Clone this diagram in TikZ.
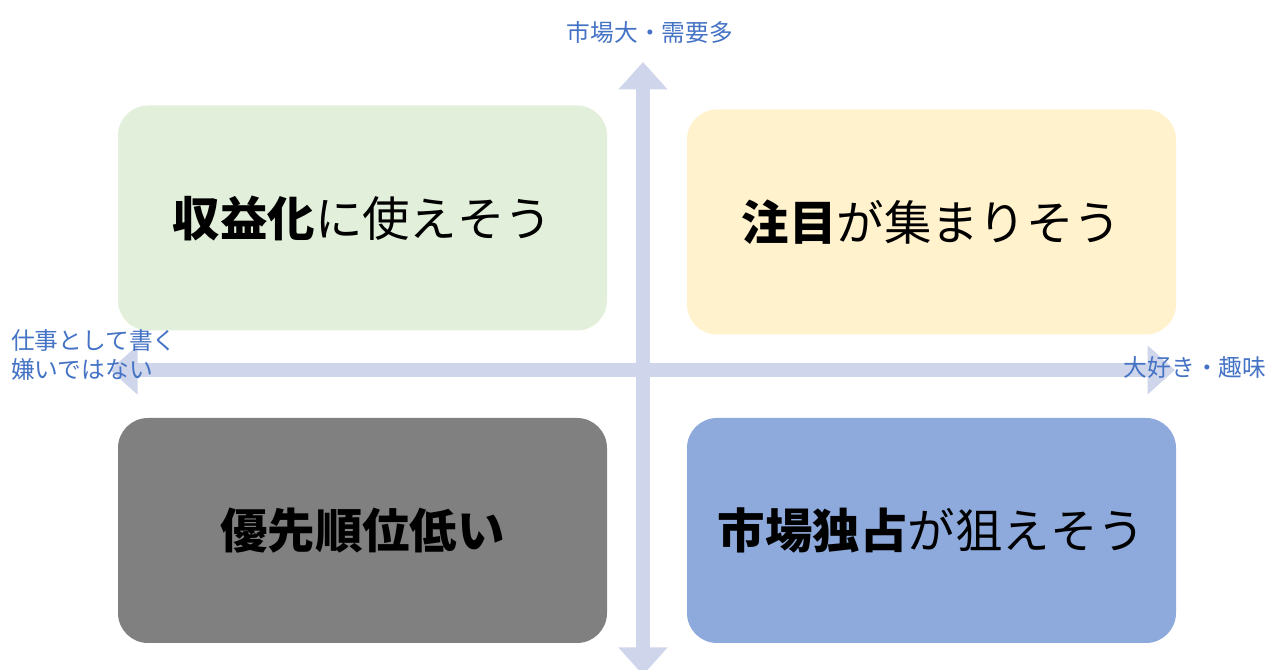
\documentclass[tikz,border=0pt]{standalone}
\usepackage{fontspec}
\newfontfamily\cjk{Noto Sans CJK JP}
\usetikzlibrary{arrows.meta, positioning}
\definecolor{AxisColor}{RGB}{207,213,234}
\definecolor{LabelColor}{RGB}{68,114,196}
\definecolor{GreenBox}{RGB}{226,239,218}
\definecolor{YellowBox}{RGB}{255,242,204}
\definecolor{GrayBox}{RGB}{128,128,128}
\definecolor{BlueBox}{RGB}{142,169,219}
\tikzset{
  quadrant/.style={rectangle, rounded corners=0.6cm, minimum width=9.78cm, minimum height=4.5cm, font=\cjk\fontsize{27}{30}\selectfont},
  axis/.style={AxisColor, line width=0.28cm, -{Triangle[width=0.95cm,length=0.55cm]}},
  axis label/.style={LabelColor, font=\cjk\fontsize{13.5}{17}\selectfont, align=left}
}
\begin{document}
\begin{tikzpicture}
  \useasboundingbox (0,0) rectangle (25.6,13.4);
  % axes
  \coordinate (top) at (12.86,12.16);
  \coordinate (bottom) at (12.86,-0.1);
  \coordinate (left) at (2.2,6);
  \coordinate (right) at (23.5,6);
  \draw[axis] (12.86,6) -- (top);
  \draw[axis] (12.86,6) -- (bottom);
  \draw[axis] (12.86,6) -- (left);
  \draw[axis] (12.86,6) -- (right);

  % quadrants
  \node[quadrant, fill=GreenBox] (profit) at (7.25,9.04) {\textbf{収益化}に使えそう};
  \node[quadrant, fill=YellowBox] (attention) at (18.63,8.96) {\textbf{注目}が集まりそう};
  \node[quadrant, fill=GrayBox] (low) at (7.25,2.79) {\textbf{優先順位低い}};
  \node[quadrant, fill=BlueBox] (monopoly) at (18.63,2.79) {\textbf{市場独占}が狙えそう};

  % axis labels
  \node[axis label] (demand) at (13.0,12.76) {市場大・需要多};
  \node[axis label, anchor=west] (work) at (0.1,6.3) {仕事として書く\\嫌いではない};
  \node[axis label] (hobby) at (23.9,6.05) {大好き・趣味};
\end{tikzpicture}
\end{document}
